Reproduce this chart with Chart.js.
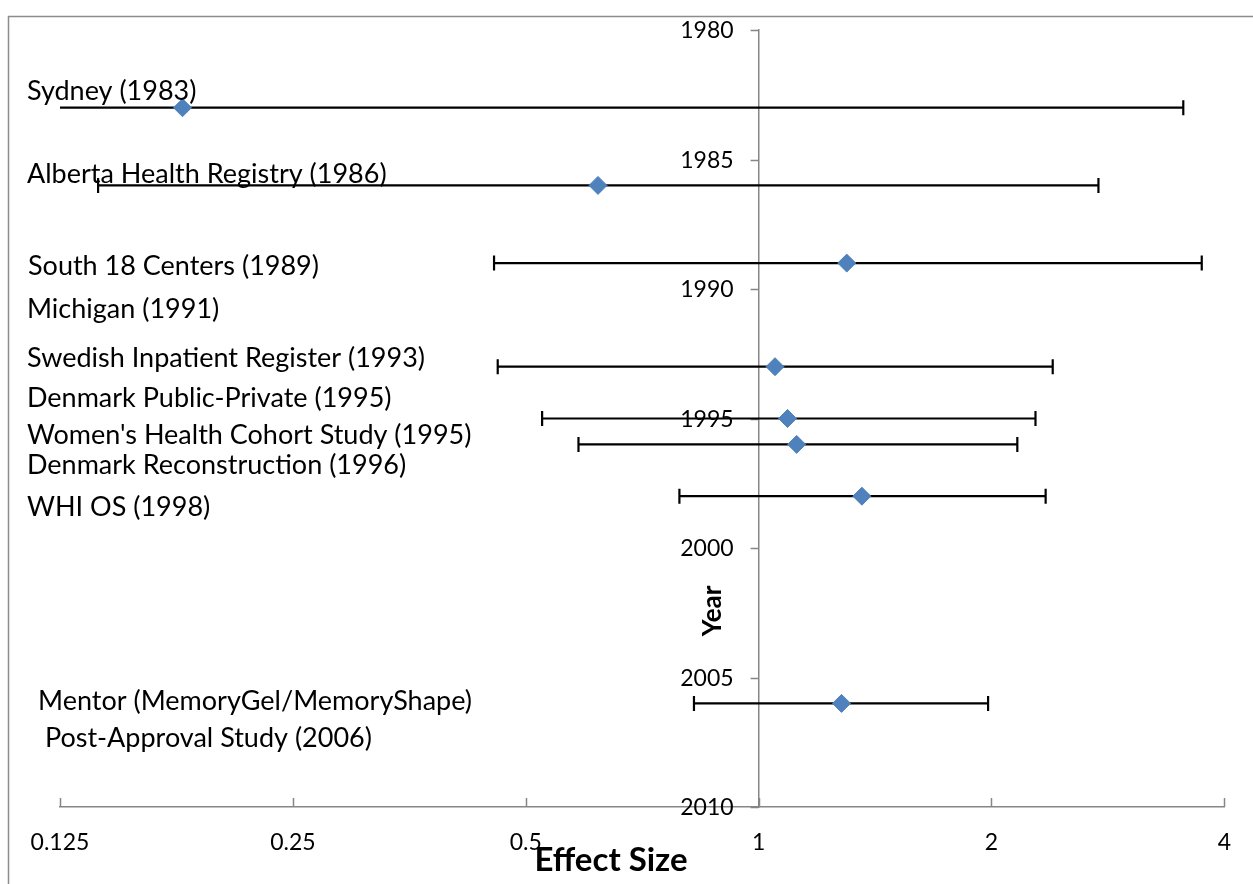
<!DOCTYPE html>
<html>
<head>
<meta charset="utf-8">
<script src="https://cdn.jsdelivr.net/npm/chart.js@4/dist/chart.umd.min.js"></script>
<style>
  html, body { margin: 0; padding: 0; background: #fff; }
  #wrap { width: 1253px; height: 884px; }
</style>
</head>
<body>
<div id="wrap"><canvas id="forest" width="1253" height="884"></canvas></div>
<script>
// ================= DATA =================
const studyYears = [1983, 1986, 1989, 1993, 1995, 1996, 1998, 2006];
const effectSize = [0.18, 0.62, 1.30, 1.05, 1.09, 1.12, 1.36, 1.28];
const ciLower    = [0.12, 0.14, 0.455, 0.46, 0.525, 0.585, 0.79, 0.825];
const ciUpper    = [3.54, 2.75, 3.74, 2.40, 2.28, 2.16, 2.35, 1.98];

const xTickValues = [0.125, 0.25, 0.5, 1, 2, 4];
const xTickLabels = ["0.125", "0.25", "0.5", "1", "2", "4"];
const yearTicks   = [1980, 1985, 1990, 1995, 2000, 2005, 2010];

const studyNames = [
    "Sydney (1983)",
    "Alberta Health Registry (1986)",
    "South 18 Centers (1989)",
    "Michigan (1991)",
    "Swedish Inpatient Register (1993)",
    "Denmark Public-Private (1995)",
    "Women's Health Cohort Study (1995)",
    "Denmark Reconstruction (1996)",
    "WHI OS (1998)",
    "Mentor (MemoryGel/MemoryShape)",
    " Post-Approval Study (2006)"
];

// text box placement: left edge in px, vertical centre in year units
const nameBoxes = [
    [27, 1982.36], [27, 1985.56], [28, 1989.11], [27, 1990.77],
    [27, 1992.66], [27, 1994.21], [27, 1995.64], [27, 1996.80],
    [27, 1998.42], [38, 2005.91], [38, 2007.34]
];

// ================= STYLE =================
const FONT = "Lato, 'Open Sans', sans-serif";
const AXIS_GREY = "#868686";
const MARKER = "#4F81BD";

const points = studyYears.map((yr, i) => ({ x: effectSize[i], y: yr }));

// ================= PLUGIN =================
const forestDecor = {
    id: "forestDecor",

    beforeDraw(chart) {
        const c = chart.ctx;
        c.save();
        c.fillStyle = "#fff";
        c.fillRect(0, 0, chart.width, chart.height);
        // outer frame (only left and top edges fall inside the canvas)
        c.strokeStyle = "#8c8c8c";
        c.lineWidth = 1.5;
        c.beginPath();
        c.moveTo(8.5, chart.height + 2);
        c.lineTo(8.5, 16.5);
        c.lineTo(chart.width + 2, 16.5);
        c.stroke();
        c.restore();
    },

    beforeDatasetsDraw(chart) {
        const c = chart.ctx;
        const xs = chart.scales.x;
        const ys = chart.scales.y;
        const area = chart.chartArea;
        const axisX = xs.getPixelForValue(1);
        const axisY = ys.getPixelForValue(2010);

        c.save();
        c.strokeStyle = AXIS_GREY;
        c.lineWidth = 1.5;
        // x tick marks point up into the plot
        xTickValues.forEach(v => {
            const px = Math.round(xs.getPixelForValue(v)) + 0.5;
            c.beginPath();
            c.moveTo(px, axisY);
            c.lineTo(px, axisY - 9);
            c.stroke();
        });
        // year tick marks point left of the axis
        yearTicks.forEach(v => {
            const py = Math.round(ys.getPixelForValue(v)) + 0.5;
            c.beginPath();
            c.moveTo(axisX, py);
            c.lineTo(axisX - 8, py);
            c.stroke();
        });
        c.restore();

        // year labels
        c.save();
        c.fillStyle = "#000";
        c.font = "23px " + FONT;
        c.textAlign = "right";
        c.textBaseline = "middle";
        yearTicks.forEach(v => {
            c.fillText(String(v), axisX - 25, ys.getPixelForValue(v) + 1);
        });
        c.restore();

        // confidence interval bars
        c.save();
        c.beginPath();
        c.rect(area.left, 0, area.right - area.left, chart.height);
        c.clip();
        c.strokeStyle = "#000";
        c.lineWidth = 2.2;
        studyYears.forEach((yr, i) => {
            const y = ys.getPixelForValue(yr);
            const x1 = xs.getPixelForValue(ciLower[i]);
            const x2 = xs.getPixelForValue(ciUpper[i]);
            c.beginPath();
            c.moveTo(x1, y);
            c.lineTo(x2, y);
            c.moveTo(x1, y - 7.5);
            c.lineTo(x1, y + 7.5);
            c.moveTo(x2, y - 7.5);
            c.lineTo(x2, y + 7.5);
            c.stroke();
        });
        c.restore();
    },

    afterDraw(chart) {
        const c = chart.ctx;
        const xs = chart.scales.x;
        const ys = chart.scales.y;

        c.save();
        c.fillStyle = "#000";
        c.font = "27px " + FONT;
        c.textAlign = "left";
        c.textBaseline = "middle";
        studyNames.forEach((name, i) => {
            const [lx, yr] = nameBoxes[i];
            c.fillText(name, lx, ys.getPixelForValue(yr));
        });

        // axis titles
        c.font = "bold 33px " + FONT;
        c.textAlign = "center";
        c.fillText("Effect Size", 611, 860);

        c.translate(xs.getPixelForValue(1) - 46, ys.getPixelForValue(2002.43));
        c.rotate(-Math.PI / 2);
        c.font = "bold 26px " + FONT;
        c.fillText("Year", 0, 0);
        c.restore();
    }
};

// ================= CHART =================
new Chart(document.getElementById("forest"), {
    type: "scatter",
    data: {
        datasets: [{
            data: points,
            pointStyle: "rectRot",
            pointRadius: 9,
            pointHoverRadius: 9,
            backgroundColor: MARKER,
            borderColor: MARKER,
            borderWidth: 1
        }]
    },
    options: {
        responsive: false,
        animation: false,
        layout: { padding: { left: 60, right: 27, top: 30, bottom: 77 } },
        plugins: {
            legend: { display: false },
            tooltip: { enabled: false }
        },
        scales: {
            x: {
                type: "logarithmic",
                min: 0.125,
                max: 4,
                position: { y: 2010 },
                afterBuildTicks: scale => {
                    scale.ticks = xTickValues.map(v => ({ value: v }));
                },
                ticks: {
                    autoSkip: false,
                    maxRotation: 0,
                    padding: 22,
                    color: "#000",
                    font: { family: FONT, size: 23 },
                    callback: (v, i) => xTickLabels[i]
                },
                grid: { drawOnChartArea: false, drawTicks: false },
                border: { color: AXIS_GREY, width: 1.5 }
            },
            y: {
                min: 1980,
                max: 2010,
                reverse: true,
                position: { x: 1 },
                afterBuildTicks: scale => {
                    scale.ticks = yearTicks.map(v => ({ value: v }));
                },
                ticks: { display: false },
                grid: { drawOnChartArea: false, drawTicks: false },
                border: { color: AXIS_GREY, width: 1.5 }
            }
        }
    },
    plugins: [forestDecor]
});
</script>
</body>
</html>
